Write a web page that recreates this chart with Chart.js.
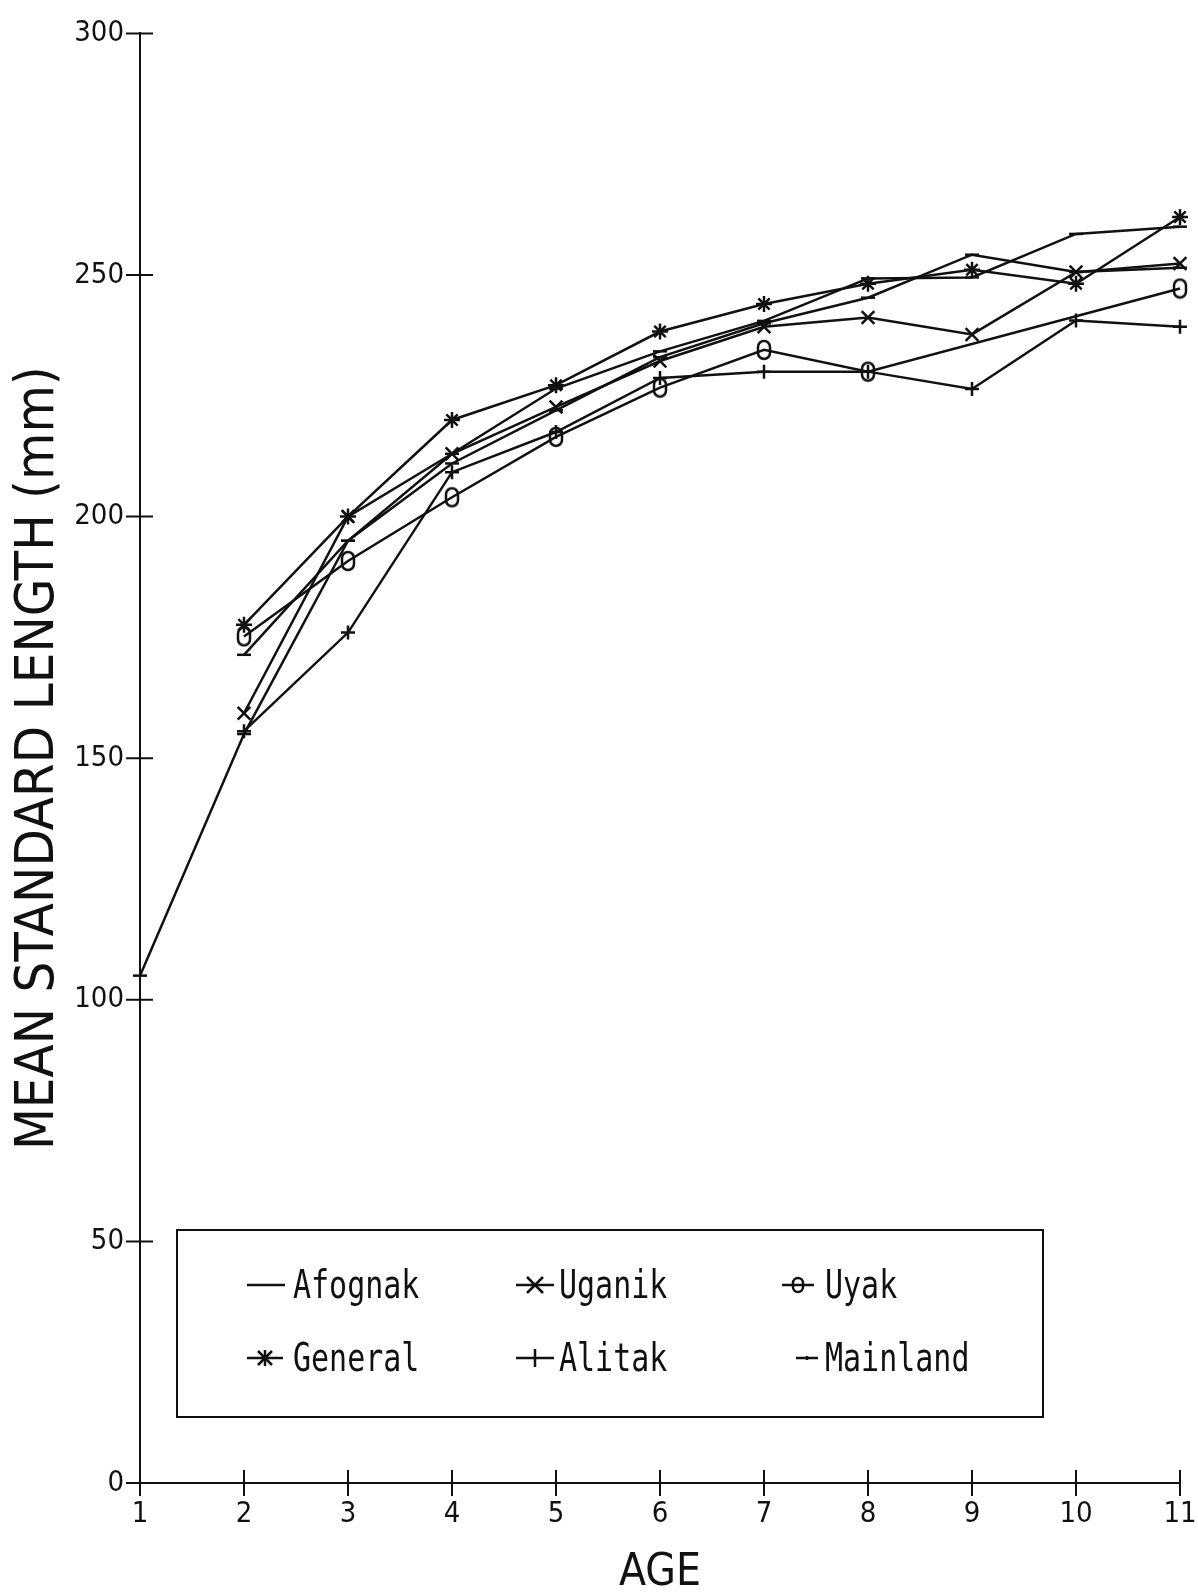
<!DOCTYPE html>
<html>
<head>
<meta charset="utf-8">
<script src="https://cdn.jsdelivr.net/npm/chart.js@4.4.1/dist/chart.umd.min.js"></script>
<style>
html,body{margin:0;padding:0;background:#fff;}
#wrap{position:relative;width:1198px;height:1593px;overflow:hidden;}
#c{position:absolute;left:0;top:0;}
#legend{position:absolute;left:176px;top:1229px;width:868px;height:189px;border:2px solid #111;box-sizing:border-box;}
.item{position:absolute;height:40px;}
.item svg{position:absolute;top:0;}
.lbl{position:absolute;top:2px;font-family:'DejaVu Sans Mono',monospace;font-size:30px;line-height:36px;color:#111;transform:scaleY(1.3);transform-origin:left center;white-space:nowrap;}
</style>
</head>
<body>
<div id="wrap">
<canvas id="c" width="1198" height="1593"></canvas>
<div id="legend"></div>
</div>
<script>
// ---- data ----
const ages = [1, 2, 3, 4, 5, 6, 7, 8, 9, 10, 11];
const afognak  = [null, 171.4, 195.0, 211.0, 222.0, 233.0, 240.0, 245.3, 254.2, 250.6, 251.5];
const uganik   = [null, 159.3, 200.0, 213.0, 222.7, 232.2, 239.3, 241.2, 237.7, 250.6, 252.4];
const uyak     = [null, 175.2, 190.8, 204.0, 216.5, 226.7, 234.5, 230.0, null, null, 247.2];
const general  = [null, 177.6, 200.0, 220.0, 227.2, 238.3, 244.0, 248.2, 251.1, 248.2, 262.0];
const alitak   = [null, 155.6, 176.0, 209.2, 217.5, 228.7, 230.0, 230.0, 226.4, 240.6, 239.3];
const mainland = [105.0, 155.0, 195.0, 213.0, 226.5, 234.2, 240.5, 249.3, 249.5, 258.5, 260.0];
const yTicks = [0, 50, 100, 150, 200, 250, 300];
const xTicks = [1, 2, 3, 4, 5, 6, 7, 8, 9, 10, 11];
const xTitle = 'AGE';
const yTitle = 'MEAN STANDARD LENGTH (mm)';

const INK = '#111';
const FONT = "'Liberation Sans Narrow','DejaVu Sans Condensed','Liberation Sans',sans-serif";

function ovalMarker() {
  const c = document.createElement('canvas');
  c.width = 16; c.height = 22;
  const g = c.getContext('2d');
  g.strokeStyle = INK; g.lineWidth = 2.5;
  g.beginPath();
  if (g.roundRect) { g.roundRect(2, 2, 12, 18, 6); } else { g.rect(2, 2, 12, 18); }
  g.stroke();
  return c;
}
const oval = ovalMarker();

function pts(arr) { return ages.map((a, i) => ({ x: a, y: arr[i] })); }

const base = { borderColor: INK, borderWidth: 2.5, pointBorderColor: INK, pointBackgroundColor: 'rgba(0,0,0,0)', pointBorderWidth: 2.5, tension: 0, clip: false, fill: false };

const datasets = [
  Object.assign({}, base, { label: 'Afognak', data: pts(afognak), pointStyle: 'line', pointRadius: 7 }),
  Object.assign({}, base, { label: 'Uganik', data: pts(uganik), pointStyle: 'crossRot', pointRadius: 9 }),
  Object.assign({}, base, { label: 'Uyak', data: pts(uyak), pointStyle: oval, pointRadius: 8, spanGaps: true }),
  Object.assign({}, base, { label: 'General', data: pts(general), pointStyle: 'star', pointRadius: 8 }),
  Object.assign({}, base, { label: 'Alitak', data: pts(alitak), pointStyle: 'cross', pointRadius: 7 }),
  Object.assign({}, base, { label: 'Mainland', data: pts(mainland), pointStyle: 'line', pointRadius: 7 })
];

const crossTicks = {
  id: 'crossTicks',
  afterDraw(chart) {
    const { ctx } = chart;
    const x = chart.scales.x, y = chart.scales.y;
    ctx.save();
    ctx.strokeStyle = INK; ctx.lineWidth = 2;
    ctx.beginPath();
    const x0 = x.getPixelForValue(xTicks[0]);
    for (const v of yTicks) {
      const py = y.getPixelForValue(v);
      ctx.moveTo(x0 - 14, py); ctx.lineTo(x0 + 13, py);
    }
    const y0 = y.getPixelForValue(0);
    for (const a of xTicks) {
      const px = x.getPixelForValue(a);
      ctx.moveTo(px, y0 - 13); ctx.lineTo(px, y0 + 13);
    }
    ctx.stroke();
    ctx.restore();
  }
};

new Chart(document.getElementById('c'), {
  type: 'line',
  data: { datasets },
  options: {
    responsive: false,
    animation: false,
    devicePixelRatio: 1,
    layout: { padding: { top: 30, right: 18, left: 0, bottom: 0 } },
    plugins: { legend: { display: false }, tooltip: { enabled: false } },
    scales: {
      x: {
        type: 'linear', min: 1, max: 11,
        afterFit(s) { s.height = 110; s.paddingLeft = 0; s.paddingRight = 0; },
        afterBuildTicks(s) { s.ticks = xTicks.map(v => ({ value: v })); },
        grid: { display: false, drawTicks: false },
        border: { display: true, color: INK, width: 2 },
        ticks: { color: INK, font: { family: FONT, size: 29 }, padding: 14, maxRotation: 0, autoSkip: false },
        title: { display: true, text: xTitle, color: INK, font: { family: FONT, size: 44, lineHeight: 0.9 }, padding: 0 }
      },
      y: {
        type: 'linear', min: 0, max: 300,
        afterFit(s) { s.width = 140; },
        afterBuildTicks(s) { s.ticks = yTicks.map(v => ({ value: v })); },
        grid: { display: false, drawTicks: false },
        border: { display: true, color: INK, width: 2 },
        ticks: { color: INK, font: { family: FONT, size: 29 }, padding: 16 },
        title: { display: true, text: yTitle, color: INK, font: { family: FONT, size: 54, lineHeight: 1 }, padding: { top: 12, bottom: 0 } }
      }
    }
  },
  plugins: [crossTicks]
});

// ---- legend (HTML) ----
const legendItems = [
  { name: 'Afognak',  sym: 'line',  sx: 247, sw: 38, tx: 293, cy: 1285 },
  { name: 'Uganik',   sym: 'x',     sx: 516, sw: 38, tx: 559, cy: 1285 },
  { name: 'Uyak',     sym: 'o',     sx: 782, sw: 32, tx: 825, cy: 1285 },
  { name: 'General',  sym: 'star',  sx: 247, sw: 36, tx: 293, cy: 1358 },
  { name: 'Alitak',   sym: 'plus',  sx: 516, sw: 38, tx: 559, cy: 1358 },
  { name: 'Mainland', sym: 'short', sx: 796, sw: 22, tx: 825, cy: 1358 }
];
function symSvg(kind, w) {
  const m = w / 2, c = 20;
  let s = `<svg width="${w}" height="40" viewBox="0 0 ${w} 40" stroke="${INK}" stroke-width="2.5" fill="none">`;
  s += `<line x1="0" y1="${c}" x2="${w}" y2="${c}"/>`;
  if (kind === 'x') s += `<line x1="${m-8}" y1="${c-8}" x2="${m+8}" y2="${c+8}"/><line x1="${m-8}" y1="${c+8}" x2="${m+8}" y2="${c-8}"/>`;
  if (kind === 'o') s += `<rect x="${m-5}" y="${c-7}" width="10" height="14" rx="5"/>`;
  if (kind === 'star') s += `<line x1="${m-7}" y1="${c-7}" x2="${m+7}" y2="${c+7}"/><line x1="${m-7}" y1="${c+7}" x2="${m+7}" y2="${c-7}"/><line x1="${m}" y1="${c-8}" x2="${m}" y2="${c+8}"/>`;
  if (kind === 'plus') s += `<line x1="${m}" y1="${c-9}" x2="${m}" y2="${c+9}"/>`;
  if (kind === 'short') s += `<line x1="${m}" y1="${c-2}" x2="${m}" y2="${c+2}"/>`;
  return s + '</svg>';
}
const lg = document.getElementById('legend');
const L0 = 176, T0 = 1229;
for (const it of legendItems) {
  const d = document.createElement('div');
  d.className = 'item';
  d.style.left = (it.sx - L0 - 2) + 'px';
  d.style.top = (it.cy - T0 - 2 - 20) + 'px';
  d.innerHTML = symSvg(it.sym, it.sw) + `<span class="lbl" style="left:${it.tx - it.sx}px">${it.name}</span>`;
  lg.appendChild(d);
}
</script>
</body>
</html>
